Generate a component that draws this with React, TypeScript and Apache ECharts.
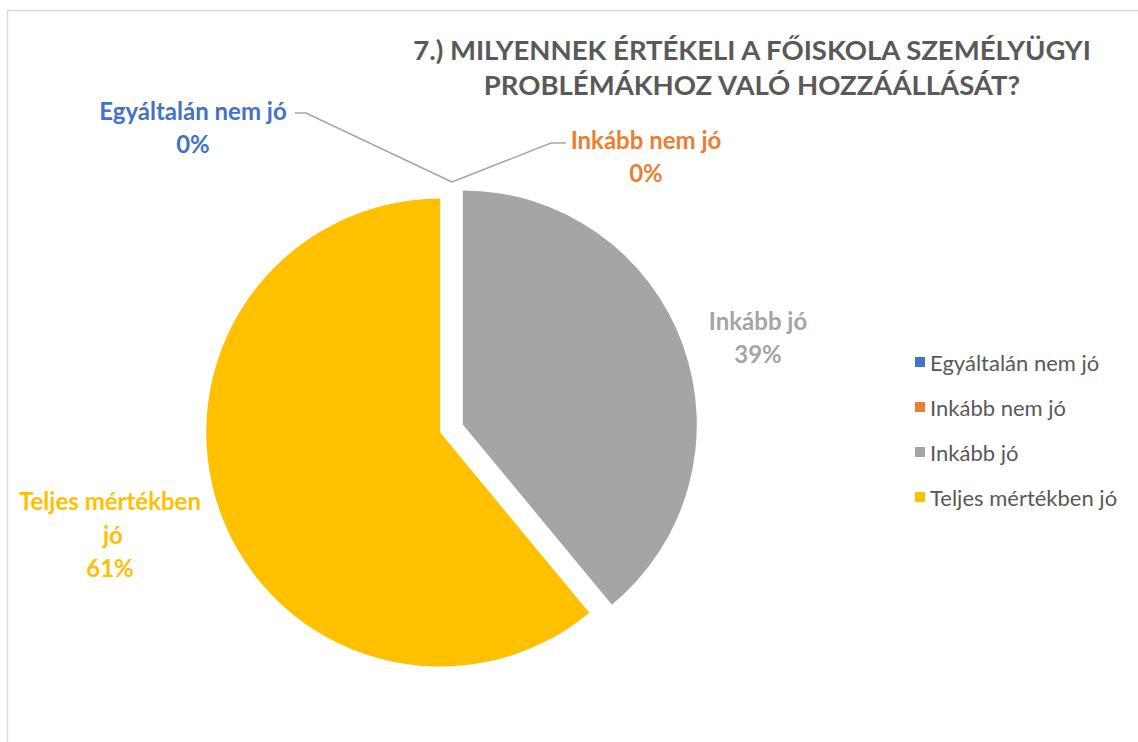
import React, { useEffect, useRef } from 'react';
import * as echarts from 'echarts';

const categories = ['Egyáltalán nem jó', 'Inkább nem jó', 'Inkább jó', 'Teljes mértékben jó'];
const values = [0, 0, 39, 61];
const colors = ['#4472C4', '#ED7D31', '#A5A5A5', '#FFC000'];
const titleText = '7.) MILYENNEK ÉRTÉKELI A FŐISKOLA SZEMÉLYÜGYI\nPROBLÉMÁKHOZ VALÓ HOZZÁÁLLÁSÁT?';

const FONT = "Lato, 'Open Sans', sans-serif";

// label centres and leader lines
const labelPlaces: { x: number; y: number; line?: number[][] }[] = [
  { x: 193, y: 127, line: [[452, 182], [306, 113], [295, 113]] },
  { x: 646, y: 156, line: [[452, 182], [551, 143], [566, 143]] },
  { x: 758, y: 337 },
  { x: 110, y: 534 },
];

export default function App() {
  const ref = useRef<HTMLDivElement>(null);
  useEffect(() => {
    document.body.style.margin = '0';
    const chart = echarts.init(ref.current!, null, { renderer: 'svg' });
    const center = [451.5, 428.5];
    const radius = 234;
    chart.setOption({
      animation: false,
      backgroundColor: '#ffffff',
      tooltip: { show: false },
      title: {
        text: titleText,
        left: 752,
        top: 32,
        padding: 0,
        textAlign: 'center',
        textStyle: { color: '#595959', fontSize: 27.5, fontWeight: 'bold', lineHeight: 35, fontFamily: FONT },
      },
      legend: {
        orient: 'vertical',
        left: 915,
        top: 351,
        padding: 0,
        icon: 'rect',
        itemWidth: 10,
        itemHeight: 10,
        itemGap: 23,
        selectedMode: false,
        data: categories,
        textStyle: { color: '#595959', fontSize: 22, lineHeight: 22, fontFamily: FONT },
      },
      graphic: [
        {
          type: 'rect',
          shape: { x: 7.5, y: 10.5, width: 1200, height: 800 },
          style: { fill: 'none', stroke: '#DADADA', lineWidth: 1.5 },
          silent: true,
        },
      ],
      series: [
        {
          type: 'pie',
          center,
          radius,
          startAngle: 90,
          clockwise: true,
          selectedMode: 'multiple',
          selectedOffset: 12,
          avoidLabelOverlap: false,
          emphasis: { disabled: true },
          label: { show: false },
          labelLine: { show: false },
          data: categories.map((name, i) => ({
            name,
            value: values[i],
            selected: true,
            itemStyle: { color: colors[i] },
            select: { itemStyle: { color: colors[i] } },
          })),
        },
        {
          type: 'pie',
          center,
          radius,
          startAngle: 90,
          clockwise: true,
          silent: true,
          selectedMode: false,
          avoidLabelOverlap: false,
          emphasis: { disabled: true },
          itemStyle: { color: 'rgba(0,0,0,0)' },
          label: {
            show: true,
            formatter: '{b}\n{d}%',
            fontFamily: FONT,
            fontWeight: 'bold',
            fontSize: 24,
            lineHeight: 33.5,
            align: 'center',
          },
          labelLine: { show: false, lineStyle: { color: '#A6A6A6', width: 1.5 } },
          labelLayout: (params: any) => {
            const p = labelPlaces[params.dataIndex];
            const res: any = { x: p.x, y: p.y, align: 'center', verticalAlign: 'middle' };
            if (p.line) res.labelLinePoints = p.line;
            return res;
          },
          data: categories.map((name, i) => ({
            name,
            value: values[i],
            label: i === 3 ? { color: colors[i], width: 210, overflow: 'break' } : { color: colors[i] },
            labelLine: { show: i < 2 },
          })),
        },
      ],
    });
    return () => chart.dispose();
  }, []);
  return <div ref={ref} style={{ position: 'absolute', left: 0, top: 0, width: 1138, height: 742 }} />;
}
